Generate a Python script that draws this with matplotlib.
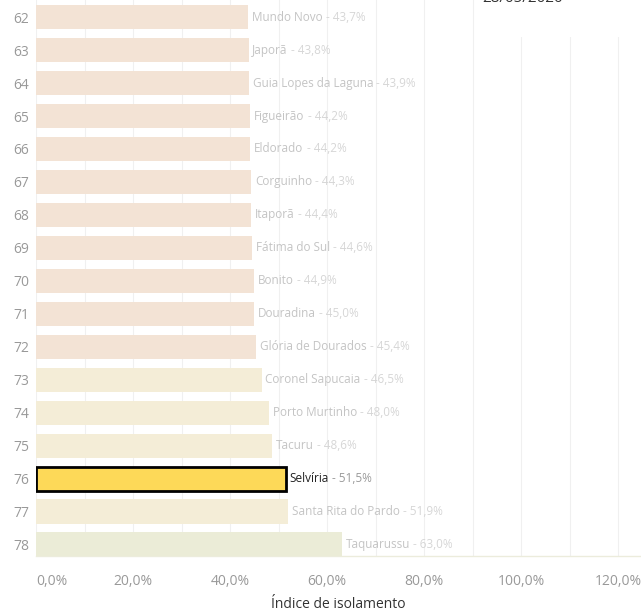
import matplotlib.pyplot as plt
from matplotlib.patches import Rectangle

plt.rcParams['font.family'] = ['Open Sans', 'DejaVu Sans']

ranks = [62, 63, 64, 65, 66, 67, 68, 69, 70, 71, 72, 73, 74, 75, 76, 77, 78]
cities = ["Mundo Novo", "Japorã", "Guia Lopes da Laguna", "Figueirão", "Eldorado",
          "Corguinho", "Itaporã", "Fátima do Sul", "Bonito", "Douradina",
          "Glória de Dourados", "Coronel Sapucaia", "Porto Murtinho", "Tacuru",
          "Selvíria", "Santa Rita do Pardo", "Taquarussu"]
values = [43.7, 43.8, 43.9, 44.2, 44.2, 44.3, 44.4, 44.6, 44.9, 45.0,
          45.4, 46.5, 48.0, 48.6, 51.5, 51.9, 63.0]
highlight = "Selvíria"
date_label = "28/05/2020"
x_ticks = [0, 20, 40, 60, 80, 100, 120]


def bar_color(v, name):
    if name == highlight:
        return "#fdd958"
    if v < 46:
        return "#f3e3d5"
    if v < 60:
        return "#f4edd7"
    return "#ebecd7"


fig = plt.figure(figsize=(6.41, 6.12), dpi=100)
ax = fig.add_axes([36 / 641, 56 / 612, 1 - 36 / 641, 1 - 56 / 612])

for r, name, v in zip(ranks, cities, values):
    hl = name == highlight
    ax.barh(r, v, height=0.73, color=bar_color(v, name),
            edgecolor="black" if hl else "none", linewidth=2 if hl else 0, zorder=2)
    name_col = "#222222" if hl else "#c4c4c4"
    val_col = "#9a9a9a" if hl else "#d6d6d6"
    t = ax.text(v + 0.8, r, name, color=name_col, fontsize=8.5, va="center", ha="left", zorder=3)
    ax.annotate(" - " + f"{v:.1f}%".replace(".", ","), xycoords=t, xy=(1, 0.5),
                va="center", ha="left", color=val_col, fontsize=8.5, zorder=3)

ax.set_xlim(0, 124.7)
ax.set_ylim(78.35, 61.48)
ax.set_yticks(ranks)
ax.set_yticklabels([str(r) for r in ranks], fontsize=10, color="#999999")
ax.set_xticks(x_ticks)
ax.set_xticklabels([f"{x:.1f}%".replace(".", ",") for x in x_ticks],
                   fontsize=10, color="#999999")
ax.get_xticklabels()[0].set_horizontalalignment("left")
ax.tick_params(axis="both", length=0)
ax.tick_params(axis="x", pad=13)
ax.tick_params(axis="y", pad=5)
ax.set_xticks(range(10, 121, 10), minor=True)
ax.tick_params(axis="x", which="minor", length=0)
ax.grid(axis="x", which="both", color="#f0f0f0", linewidth=0.8, zorder=0)
ax.grid(axis="y", visible=False)
for s in ["top", "right", "left"]:
    ax.spines[s].set_visible(False)
ax.spines["bottom"].set_color("#ececdc")
ax.spines["bottom"].set_linewidth(1.0)
ax.set_xlabel("Índice de isolamento", fontsize=10, color="#333333", labelpad=6)

# header box at top right (partially cut off in the reference)
fig.patches.append(Rectangle((480 / 641, 1 - 37 / 612), 161 / 641, 37 / 612,
                             transform=fig.transFigure, facecolor="white",
                             edgecolor="none", zorder=5))
fig.text(523 / 641, 1 + 2 / 612, date_label, ha="center", va="center",
         fontsize=11, color="#333333", zorder=6)

fig.savefig("out.png", dpi=100)
